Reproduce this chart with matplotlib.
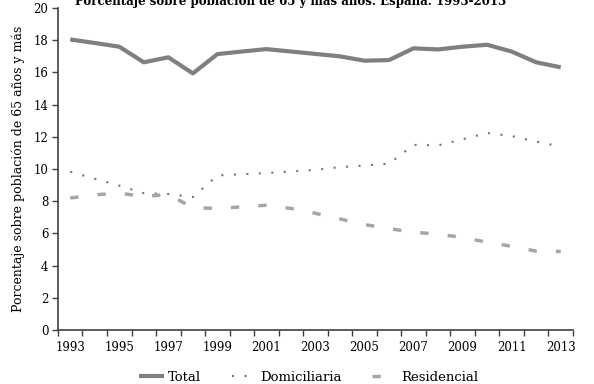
import matplotlib
matplotlib.use("Agg")
import matplotlib.pyplot as plt
from matplotlib.ticker import MultipleLocator, FixedLocator

plt.rcParams['font.family'] = ['DejaVu Serif']

years = list(range(1993, 2014))
total = [18.05, 17.83, 17.6, 16.63, 16.94, 15.94, 17.14, 17.3, 17.45, 17.3, 17.15,
         17.0, 16.73, 16.77, 17.5, 17.43, 17.6, 17.72, 17.3, 16.63, 16.32]
domiciliaria = [9.83, 9.4, 8.97, 8.5, 8.45, 8.26, 9.6, 9.68, 9.75, 9.85, 9.95,
                10.12, 10.22, 10.33, 11.5, 11.47, 11.85, 12.24, 12.05, 11.7, 11.4]
residencial = [8.2, 8.4, 8.5, 8.3, 8.42, 7.6, 7.55, 7.65, 7.75, 7.55, 7.25,
               6.9, 6.55, 6.3, 6.08, 5.95, 5.75, 5.45, 5.2, 4.9, 4.88]
tick_years = years[::2]

fig = plt.figure(figsize=(5.94, 3.84), dpi=100)
ax = fig.add_axes([0.0976, 0.1406, 0.867, 0.8384])

ax.plot(years, total, color='#7f7f7f', lw=3, label='Total', solid_capstyle='butt')
ax.plot(years, domiciliaria, color='#767676', lw=1.5, linestyle=(0, (1, 5)),
        label='Domiciliaria')
ax.plot(years, residencial, color='#a6a6a6', lw=2.5, linestyle=(0, (2.4, 5.5)),
        label='Residencial')

ax.set_xlim(1992.5, 2013.5)
ax.set_ylim(0, 20)
ax.yaxis.set_major_locator(MultipleLocator(2))
ax.set_xticks(tick_years)
ax.set_xticklabels([str(y) for y in tick_years])
ax.xaxis.set_minor_locator(FixedLocator([y - 0.5 for y in years] + [2013.5]))
ax.tick_params(axis='x', which='major', length=0, pad=8, labelsize=8.5)
ax.tick_params(axis='x', which='minor', length=4, width=1, color='#404040')
ax.tick_params(axis='y', length=4, width=1, color='#404040', labelsize=8.5, pad=3)

for s in ['top', 'right']:
    ax.spines[s].set_visible(False)
for s in ['left', 'bottom']:
    ax.spines[s].set_color('#404040')
    ax.spines[s].set_linewidth(1.2)

ax.set_ylabel('Porcentaje sobre población de 65 años y más', fontsize=9, labelpad=6)

# title sits partly above the top edge, as in the source image
fig.text(0.49, 0.987, 'Porcentaje sobre población de 65 y más años. España. 1993-2013',
         ha='center', va='baseline', fontsize=8.5, fontweight='bold')

fig.legend(loc='lower center', bbox_to_anchor=(0.52, -0.03), ncol=3, frameon=False,
           fontsize=9.5, handlelength=1.9, columnspacing=2.3, handletextpad=0.3)

fig.savefig('out.png', dpi=100)
